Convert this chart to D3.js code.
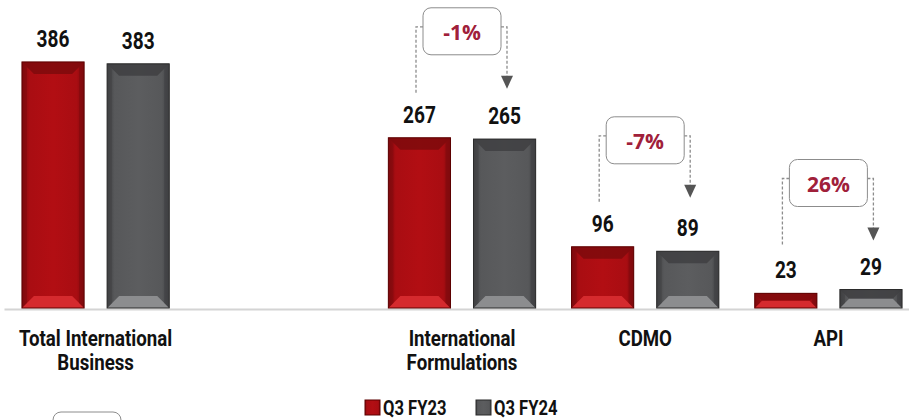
<!DOCTYPE html>
<html>
<head>
<meta charset="utf-8">
<script src="https://cdn.jsdelivr.net/npm/d3@7"></script>
<style>
  body { margin: 0; background: #fff; }
  svg { display: block; font-family: "Roboto", sans-serif; font-weight: bold; }
</style>
</head>
<body>
<div id="chart"></div>
<script>
const width = 909,
    height = 420;

// data
const categories = ["Total International Business", "", "International Formulations", "CDMO", "API"];
const categoryLines = [["Total International", "Business"], [], ["International", "Formulations"], ["CDMO"], ["API"]];
const seriesNames = ["Q3 FY23", "Q3 FY24"];
const q3fy23 = [386, null, 267, 96, 23];
const q3fy24 = [383, null, 265, 89, 29];
const growth = [null, null, "-1%", "-7%", "26%"];

const palette = {
    "Q3 FY23": { face: "#a90d12", light: "#d52a2e", dark: "#7e0a0d", edge: "#5c0000" },
    "Q3 FY24": { face: "#57585a", light: "#8c8d8f", dark: "#3f4042", edge: "#2b2b2b" }
};

// condensed look: Roboto squeezed horizontally
const squeeze = 0.83;

let svg = d3.select('#chart').append('svg')
    .attr('width', width)
    .attr('height', height);

let defs = svg.append("defs");
seriesNames.forEach((s, i) => {
    let g = defs.append("linearGradient").attr("id", "face" + i);
    g.append("stop").attr("offset", "0%").attr("stop-color", palette[s].dark);
    g.append("stop").attr("offset", "12%").attr("stop-color", palette[s].face);
    g.append("stop").attr("offset", "50%").attr("stop-color", d3.color(palette[s].face).brighter(0.15));
    g.append("stop").attr("offset", "88%").attr("stop-color", palette[s].face);
    g.append("stop").attr("offset", "100%").attr("stop-color", palette[s].dark);
});

let x = d3.scaleBand()
    .domain(d3.range(categories.length))
    .range([4, 920]);

let x1 = d3.scaleBand()
    .domain(seriesNames)
    .range([x.bandwidth() * 0.098, x.bandwidth() * 0.902])
    .paddingInner(0.27);

let y = d3.scaleLinear()
    .domain([0, 480])
    .range([308, 2]);

// baseline
svg.append("g")
    .attr("transform", `translate(0,${y(0) + 1})`)
    .call(d3.axisBottom(x).tickSize(0).tickFormat(""))
    .call(g => g.select(".domain").attr("stroke", "#d4d4d4").attr("stroke-width", 2));

let bars = [];
categories.forEach((c, i) => {
    [q3fy23[i], q3fy24[i]].forEach((v, j) => {
        if (v != null) bars.push({ i: i, s: seriesNames[j], j: j, v: v });
    });
});

let barG = svg.append("g").selectAll("g")
    .data(bars)
    .enter()
    .append("g")
    .attr("transform", d => `translate(${x(d.i) + x1(d.s)},${y(d.v)})`);

// bevelled bar: face + four trapezoids
barG.each(function (d) {
    let g = d3.select(this);
    let w = x1.bandwidth(), h = y(0) - y(d.v);
    let b = Math.min(12, h / 2), sb = Math.min(5, w / 2);
    let col = palette[d.s];
    g.append("rect").attr("width", w).attr("height", h)
        .attr("fill", `url(#face${d.j})`);
    g.append("path")
        .attr("d", `M0,0 L${w},0 L${w - b},${b} L${b},${b} Z`)
        .attr("fill", col.dark).attr("opacity", 0.85);
    g.append("path")
        .attr("d", `M0,${h} L${w},${h} L${w - b},${h - b} L${b},${h - b} Z`)
        .attr("fill", col.light);
    g.append("path")
        .attr("d", `M0,0 L${sb},${sb} L${sb},${h - sb} L0,${h} Z`)
        .attr("fill", col.dark).attr("opacity", 0.5);
    g.append("path")
        .attr("d", `M${w},0 L${w - sb},${sb} L${w - sb},${h - sb} L${w},${h} Z`)
        .attr("fill", col.dark).attr("opacity", 0.6);
    g.append("rect").attr("width", w).attr("height", h)
        .attr("fill", "none").attr("stroke", col.edge).attr("stroke-width", 1);
});

// value labels
svg.append("g").selectAll("text")
    .data(bars)
    .enter()
    .append("text")
    .attr("transform", d => `translate(${x(d.i) + x1(d.s) + x1.bandwidth() / 2},${y(d.v) - 15}) scale(${squeeze},1)`)
    .attr("text-anchor", "middle")
    .attr("font-size", 23)
    .attr("fill", "#111")
    .text(d => d.v);

// category labels
categoryLines.forEach((lines, i) => {
    lines.forEach((l, k) => {
        svg.append("text")
            .attr("transform", `translate(${x(i) + x.bandwidth() / 2},${346 + k * 24}) scale(${squeeze},1)`)
            .attr("text-anchor", "middle")
            .attr("font-size", 22.5)
            .attr("fill", "#111")
            .text(l);
    });
});

// growth callouts
let calloutData = growth.map((g, i) => ({ i: i, label: g, top: Math.max(q3fy23[i], q3fy24[i]) }))
    .filter(d => d.label);

let callout = svg.append("g").selectAll("g")
    .data(calloutData)
    .enter()
    .append("g")
    .attr("transform", d => `translate(${x(d.i) + x.bandwidth() / 2},${y(d.top) - 130})`);

callout.append("path")
    .attr("d", "M-39,19 H-46 V85")
    .attr("fill", "none")
    .attr("stroke", "#8c8c8c")
    .attr("stroke-width", 1.3)
    .attr("stroke-dasharray", "3,2");

callout.append("path")
    .attr("d", "M39,19 H45 V70")
    .attr("fill", "none")
    .attr("stroke", "#8c8c8c")
    .attr("stroke-width", 1.3)
    .attr("stroke-dasharray", "3,2");

callout.append("path")
    .attr("d", "M39,68 L51,68 L45,81 Z")
    .attr("fill", "#555");

callout.append("rect")
    .attr("x", -39).attr("y", 0)
    .attr("width", 78).attr("height", 47)
    .attr("rx", 8)
    .attr("fill", "#fff")
    .attr("stroke", "#8c8c8c")
    .attr("stroke-width", 1);

callout.append("text")
    .attr("x", 0).attr("y", 32)
    .attr("text-anchor", "middle")
    .attr("font-family", "'Open Sans', sans-serif")
    .attr("font-size", 21)
    .attr("fill", "#a0203a")
    .text(d => d.label);

// legend
let legend = svg.append("g").selectAll("g")
    .data(seriesNames)
    .enter()
    .append("g")
    .attr("transform", (d, i) => `translate(${365 + i * 111},400)`);

legend.append("rect")
    .attr("width", 15).attr("height", 15)
    .attr("fill", (d, i) => `url(#face${i})`)
    .attr("stroke", d => palette[d].edge);

legend.append("text")
    .attr("transform", `translate(18,14.5) scale(${squeeze},1)`)
    .attr("font-size", 20)
    .attr("fill", "#111")
    .text(d => d);

// empty rounded box cut off at bottom left
svg.append("rect")
    .attr("x", 53).attr("y", 412)
    .attr("width", 68).attr("height", 30)
    .attr("rx", 8)
    .attr("fill", "none")
    .attr("stroke", "#8c8c8c");
</script>
</body>
</html>
